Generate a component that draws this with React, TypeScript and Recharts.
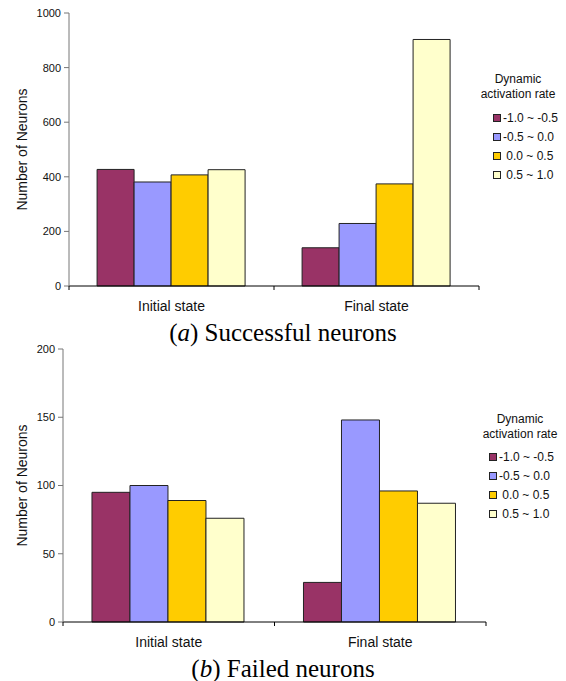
import React from "react";
import { BarChart, Bar, XAxis, YAxis, Legend } from "recharts";

// categories and series
const STATES = ["Initial state", "Final state"];
const RATE_LABELS = ["-1.0 ~ -0.5", "-0.5 ~ 0.0", " 0.0 ~ 0.5", " 0.5 ~ 1.0"];
const COLOURS = ["#993366", "#9999FF", "#FFCC00", "#FFFFCC"];

// (a) successful neurons
const SUCC_NEG_HIGH = [427, 140];
const SUCC_NEG_LOW = [381, 229];
const SUCC_POS_LOW = [407, 374];
const SUCC_POS_HIGH = [426, 903];
const SUCC_TICKS = [0, 200, 400, 600, 800, 1000];

// (b) failed neurons
const FAIL_NEG_HIGH = [95, 29];
const FAIL_NEG_LOW = [100, 148];
const FAIL_POS_LOW = [89, 96];
const FAIL_POS_HIGH = [76, 87];
const FAIL_TICKS = [0, 50, 100, 150, 200];

const SANS = "'Liberation Sans', Arial, sans-serif";

function buildRows(series: number[][]) {
  return STATES.map((s, i) => ({
    state: s,
    r0: series[0][i],
    r1: series[1][i],
    r2: series[2][i],
    r3: series[3][i],
  }));
}

// category label plus tick marks at band edges (Excel style)
function StateTick(props: any) {
  const { x, y, payload, index, visibleTicksCount, width } = props;
  const half =
    payload?.offset ?? (width && visibleTicksCount ? width / visibleTicksCount / 2 : 0);
  const axisY = y - 15;
  return (
    <g>
      {index === 0 && (
        <line x1={x - half} x2={x - half} y1={axisY} y2={axisY + 4} stroke="#000" />
      )}
      <line x1={x + half} x2={x + half} y1={axisY} y2={axisY + 4} stroke="#000" />
      <text x={x} y={y + 10} textAnchor="middle" fontSize={14} fill="#111" fontFamily={SANS}>
        {payload.value}
      </text>
    </g>
  );
}

function makeLegend(padLeft: number, gap: number) {
  return function LegendBox({ payload }: any) {
    return (
      <div style={{ fontFamily: SANS, fontSize: 12, color: "#111", width: 80 }}>
        <div style={{ textAlign: "center", lineHeight: "15px" }}>
          Dynamic
          <br />
          activation rate
        </div>
        <div style={{ marginTop: gap, paddingLeft: padLeft }}>
          {(payload || []).map((p: any) => (
            <div
              key={p.value}
              style={{ display: "flex", alignItems: "center", height: 19, whiteSpace: "pre" }}
            >
              <span
                style={{
                  display: "inline-block",
                  width: 6,
                  height: 6,
                  border: "1px solid #222",
                  background: p.color,
                  marginRight: 2,
                }}
              />
              {p.value}
            </div>
          ))}
        </div>
      </div>
    );
  };
}

interface PanelProps {
  rows: any[];
  ticks: number[];
  yWidth: number;
  right: number;
  legendPos: { left: number; top: number };
  legendPad: number;
  legendGap: number;
}

function Panel({ rows, ticks, yWidth, right, legendPos, legendPad, legendGap }: PanelProps) {
  const LegendBox = makeLegend(legendPad, legendGap);
  return (
    <BarChart
      width={566}
      height={320}
      data={rows}
      margin={{ top: 13, right, left: 0, bottom: 4 }}
      barCategoryGap="13.7%"
      barGap={0}
      style={{ fontFamily: SANS }}
    >
      <XAxis
        dataKey="state"
        height={30}
        tickSize={5}
        tickMargin={10}
        tickLine={false}
        axisLine={{ stroke: "#000" }}
        tick={<StateTick />}
      />
      <YAxis
        width={yWidth}
        domain={[ticks[0], ticks[ticks.length - 1]]}
        ticks={ticks}
        interval={0}
        tickSize={5}
        tickMargin={3}
        axisLine={{ stroke: "#777" }}
        tickLine={{ stroke: "#777" }}
        tick={{ fontSize: 11, fill: "#111" }}
        label={{
          value: "Number of Neurons",
          angle: -90,
          position: "center",
          dx: 22 - yWidth / 2,
          style: { fontSize: 14, fill: "#111", fontFamily: SANS },
        }}
      />
      <Legend
        layout="vertical"
        align="right"
        verticalAlign="top"
        itemSorter="dataKey"
        content={<LegendBox />}
        wrapperStyle={{ position: "absolute", left: legendPos.left, top: legendPos.top, width: 80 }}
      />
      {RATE_LABELS.map((name, i) => (
        <Bar
          key={name}
          dataKey={`r${i}`}
          name={name}
          fill={COLOURS[i]}
          stroke="#222"
          strokeWidth={1}
          isAnimationActive={false}
        />
      ))}
    </BarChart>
  );
}

const captionStyle: React.CSSProperties = {
  position: "absolute",
  left: 0,
  width: 566,
  textAlign: "center",
  fontFamily: "'Liberation Serif', 'Times New Roman', serif",
  fontSize: 25,
  lineHeight: "25px",
  color: "#000",
};

export default function App() {
  const succRows = buildRows([SUCC_NEG_HIGH, SUCC_NEG_LOW, SUCC_POS_LOW, SUCC_POS_HIGH]);
  const failRows = buildRows([FAIL_NEG_HIGH, FAIL_NEG_LOW, FAIL_POS_LOW, FAIL_POS_HIGH]);
  return (
    <div style={{ position: "absolute", left: 0, top: 0, width: 566, height: 681, background: "#fff" }}>
      <div style={{ position: "absolute", left: 0, top: 0 }}>
        <Panel
          rows={succRows}
          ticks={SUCC_TICKS}
          yWidth={69}
          right={7}
          legendPos={{ left: 478, top: 72 }}
          legendPad={15}
          legendGap={6.5}
        />
      </div>
      <div style={{ ...captionStyle, top: 319.5 }}>
        (<i>a</i>) Successful neurons
      </div>
      <div style={{ position: "absolute", left: 0, top: 336 }}>
        <Panel
          rows={failRows}
          ticks={FAIL_TICKS}
          yWidth={63}
          right={0}
          legendPos={{ left: 480, top: 76 }}
          legendPad={9}
          legendGap={5}
        />
      </div>
      <div style={{ ...captionStyle, top: 655.5 }}>
        (<i>b</i>) Failed neurons
      </div>
    </div>
  );
}
